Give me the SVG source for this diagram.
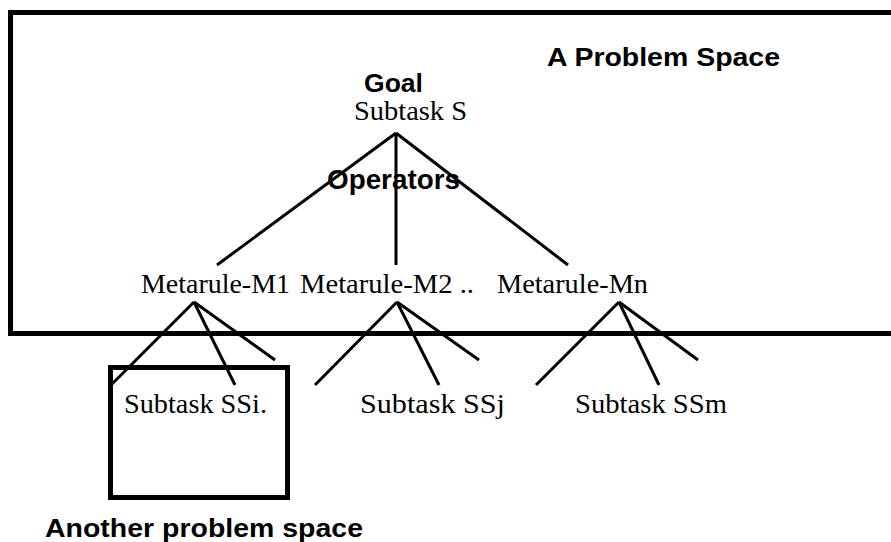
<svg xmlns="http://www.w3.org/2000/svg" width="891" height="542" viewBox="0 0 891 542">
<style>
.box{fill:none;stroke:#000;stroke-width:5}
.ln{stroke:#000;stroke-width:3;fill:none}
.b{font-family:"Liberation Sans",Arial,sans-serif;font-weight:bold;fill:#000}
.s{font-family:"Liberation Serif","Times New Roman",serif;font-size:28px;fill:#000}
</style>
<rect x="0" y="0" width="891" height="542" fill="#fff"/>
<g id="problem-space">
<rect class="box" x="10.5" y="12.5" width="890" height="321"/>
<text class="b" x="547" y="66" font-size="26" textLength="233" lengthAdjust="spacingAndGlyphs">A Problem Space</text>
</g>
<g id="another-space">
<rect class="box" x="110.5" y="367.5" width="177" height="130"/>
<text class="b" x="45" y="537" font-size="26" textLength="318" lengthAdjust="spacingAndGlyphs">Another problem space</text>
</g>
<g id="goal">
<text class="b" x="364" y="92" font-size="26" textLength="59" lengthAdjust="spacingAndGlyphs">Goal</text>
<text class="s" x="354" y="120" textLength="113" lengthAdjust="spacingAndGlyphs">Subtask S</text>
</g>
<g id="m1"><text class="s" x="141" y="293" textLength="149" lengthAdjust="spacingAndGlyphs">Metarule-M1</text></g>
<g id="m2"><text class="s" x="300" y="293" textLength="174" lengthAdjust="spacingAndGlyphs">Metarule-M2 ..</text></g>
<g id="mn"><text class="s" x="497" y="293" textLength="151" lengthAdjust="spacingAndGlyphs">Metarule-Mn</text></g>
<g id="ssi"><text class="s" x="124" y="413" textLength="143" lengthAdjust="spacingAndGlyphs">Subtask SSi.</text></g>
<g id="ssj"><text class="s" x="360" y="413" textLength="145" lengthAdjust="spacingAndGlyphs">Subtask SSj</text></g>
<g id="ssm"><text class="s" x="575" y="413" textLength="152" lengthAdjust="spacingAndGlyphs">Subtask SSm</text></g>
<g id="connectors">
<line class="ln" x1="396" y1="133" x2="217" y2="265"/>
<line class="ln" x1="396" y1="133" x2="396" y2="265"/>
<line class="ln" x1="396" y1="133" x2="568" y2="265"/>
<line class="ln" x1="194" y1="302" x2="111" y2="385"/>
<line class="ln" x1="194" y1="302" x2="235" y2="385"/>
<line class="ln" x1="194" y1="302" x2="275" y2="360"/>
<line class="ln" x1="397" y1="302" x2="315" y2="385"/>
<line class="ln" x1="397" y1="302" x2="439" y2="385"/>
<line class="ln" x1="397" y1="302" x2="479" y2="360"/>
<line class="ln" x1="619" y1="302" x2="536" y2="385"/>
<line class="ln" x1="619" y1="302" x2="659" y2="385"/>
<line class="ln" x1="619" y1="302" x2="698" y2="360"/>
</g>
<text class="b" x="327" y="189" font-size="27" textLength="133" lengthAdjust="spacingAndGlyphs">Operators</text>
</svg>
